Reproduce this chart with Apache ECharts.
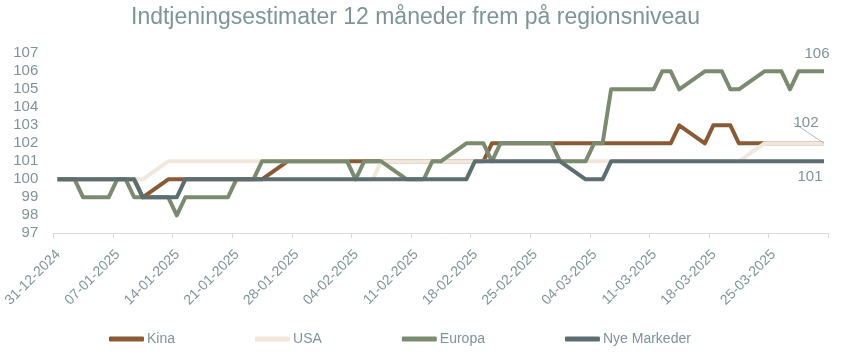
<!DOCTYPE html>
<html>
<head>
<meta charset="utf-8">
<script src="https://cdn.jsdelivr.net/npm/echarts@6/dist/echarts.min.js"></script>
<style>
html,body{margin:0;padding:0;background:#fff;}
#chart{width:842px;height:362px;}
</style>
</head>
<body>
<div id="chart"></div>
<script>
const startDate = '2024-12-31';
const tickLabels = ['31-12-2024','07-01-2025','14-01-2025','21-01-2025','28-01-2025','04-02-2025','11-02-2025','18-02-2025','25-02-2025','04-03-2025','11-03-2025','18-03-2025','25-03-2025'];
const dates = [
 '2024-12-31','2025-01-01','2025-01-02','2025-01-03',
 '2025-01-06','2025-01-07','2025-01-08','2025-01-09','2025-01-10',
 '2025-01-13','2025-01-14','2025-01-15','2025-01-16','2025-01-17',
 '2025-01-20','2025-01-21','2025-01-22','2025-01-23','2025-01-24',
 '2025-01-27','2025-01-28','2025-01-29','2025-01-30','2025-01-31',
 '2025-02-03','2025-02-04','2025-02-05','2025-02-06','2025-02-07',
 '2025-02-10','2025-02-11','2025-02-12','2025-02-13','2025-02-14',
 '2025-02-17','2025-02-18','2025-02-19','2025-02-20','2025-02-21',
 '2025-02-24','2025-02-25','2025-02-26','2025-02-27','2025-02-28',
 '2025-03-03','2025-03-04','2025-03-05','2025-03-06','2025-03-07',
 '2025-03-10','2025-03-11','2025-03-12','2025-03-13','2025-03-14',
 '2025-03-17','2025-03-18','2025-03-19','2025-03-20','2025-03-21',
 '2025-03-24','2025-03-25','2025-03-26','2025-03-27','2025-03-28',
 '2025-03-31'
];
const kina = [
 100,100,100,100,
 100,100,100,100,99,
 100,100,100,100,100,
 100,100,100,100,100,
 101,101,101,101,101,
 101,101,101,101,101,
 101,101,101,101,101,
 101,101,101,102,102,
 102,102,102,102,102,
 102,102,102,102,102,
 102,102,102,102,103,
 102,103,103,103,102,
 102,102,102,102,102,
 102
];
const usa = [
 100,100,100,100,
 100,100,100,100,100,
 101,101,101,101,101,
 101,101,101,101,101,
 101,101,101,101,101,
 101,100,100,100,101,
 101,101,101,101,101,
 101,101,101,101,101,
 101,101,101,101,101,
 101,101,101,101,101,
 101,101,101,101,101,
 101,101,101,101,101,
 102,102,102,102,102,
 102
];
const europa = [
 100,100,100,99,
 99,100,100,99,99,
 99,98,99,99,99,
 99,100,100,100,101,
 101,101,101,101,101,
 101,100,101,101,101,
 100,100,100,101,101,
 102,102,102,101,102,
 102,102,102,102,101,
 101,102,102,105,105,
 105,105,106,106,105,
 106,106,106,105,105,
 106,106,106,105,106,
 106
];
const nyeMarkeder = [
 100,100,100,100,
 100,100,100,100,99,
 99,99,100,100,100,
 100,100,100,100,100,
 100,100,100,100,100,
 100,100,100,100,100,
 100,100,100,100,100,
 100,101,101,101,101,
 101,101,101,101,101,
 100,100,100,101,101,
 101,101,101,101,101,
 101,101,101,101,101,
 101,101,101,101,101,
 101
];

const textColor = '#7f9499';
function dayIndex(iso){
  const p = iso.split('-').map(Number);
  const s = startDate.split('-').map(Number);
  return (Date.UTC(p[0],p[1]-1,p[2]) - Date.UTC(s[0],s[1]-1,s[2]))/86400000;
}
function pairs(vals, endLabel){
  return vals.map((v,i)=>{
    const pt = [dayIndex(dates[i]) + 0.5, v];
    if (endLabel && i === vals.length-1) {
      return {value: pt, symbol: 'circle', symbolSize: 0, label: endLabel};
    }
    return pt;
  });
}
const labelStyle = {show: true, color: textColor, fontSize: 15, fontFamily: 'Liberation Sans', formatter: p => p.value[1]};
const mk = (name, vals, color, endLabel, extra) => Object.assign({
  name, type: 'line', data: pairs(vals, endLabel), symbol: 'none',
  lineStyle: {color, width: 4, join: 'round'}, itemStyle: {color},
  label: {show: false}, emphasis: {disabled: true}, animation: false
}, extra || {});

const chart = echarts.init(document.getElementById('chart'), null, {renderer: 'canvas'});
chart.setOption({
  animation: false,
  title: {
    text: 'Indtjeningsestimater 12 måneder frem på regionsniveau',
    left: 126, top: 1,
    textStyle: {color: '#7d9597', fontSize: 23, fontWeight: 'normal', fontFamily: 'Liberation Sans'}
  },
  legend: {
    left: 109, top: 332, padding: 0, itemWidth: 35, itemHeight: 5, itemGap: 80,
    icon: 'roundRect',
    textStyle: {color: textColor, fontSize: 14, fontFamily: 'Liberation Sans', padding: [0,0,0,-2]},
    data: ['Kina','USA','Europa','Nye Markeder']
  },
  grid: {left: 53.3, right: 13.7, top: 53.3, bottom: 128.7, containLabel: false},
  xAxis: {
    type: 'value', min: 0, max: 91, interval: 7,
    axisLine: {show: true, lineStyle: {color: '#d9d9d9', width: 1}},
    axisTick: {show: true, length: 5, lineStyle: {color: '#d9d9d9'}},
    splitLine: {show: false},
    axisLabel: {
      rotate: 45, margin: 14, color: textColor, fontSize: 14, fontFamily: 'Liberation Sans',
      verticalAlign: 'top',
      formatter: v => tickLabels[Math.round(v/7)] || ''
    }
  },
  yAxis: {
    type: 'value', min: 97, max: 107, interval: 1,
    axisLine: {show: false}, axisTick: {show: false}, splitLine: {show: false},
    axisLabel: {margin: 15, color: textColor, fontSize: 15, fontFamily: 'Liberation Sans'}
  },
  series: [
    mk('Kina', kina, '#8a5a36'),
    mk('USA', usa, '#f1e7db',
      Object.assign({position: 'top'}, labelStyle),
      {labelLayout: {dx: -18, dy: -8}, labelLine: {show: true, lineStyle: {color: '#a9bcc2', width: 1}}}),
    mk('Europa', europa, '#7b8b6f',
      Object.assign({position: 'top', offset: [-7, -5]}, labelStyle)),
    mk('Nye Markeder', nyeMarkeder, '#5c6e70',
      Object.assign({position: 'bottom', offset: [-14, 3]}, labelStyle))
  ]
});
</script>
</body>
</html>
